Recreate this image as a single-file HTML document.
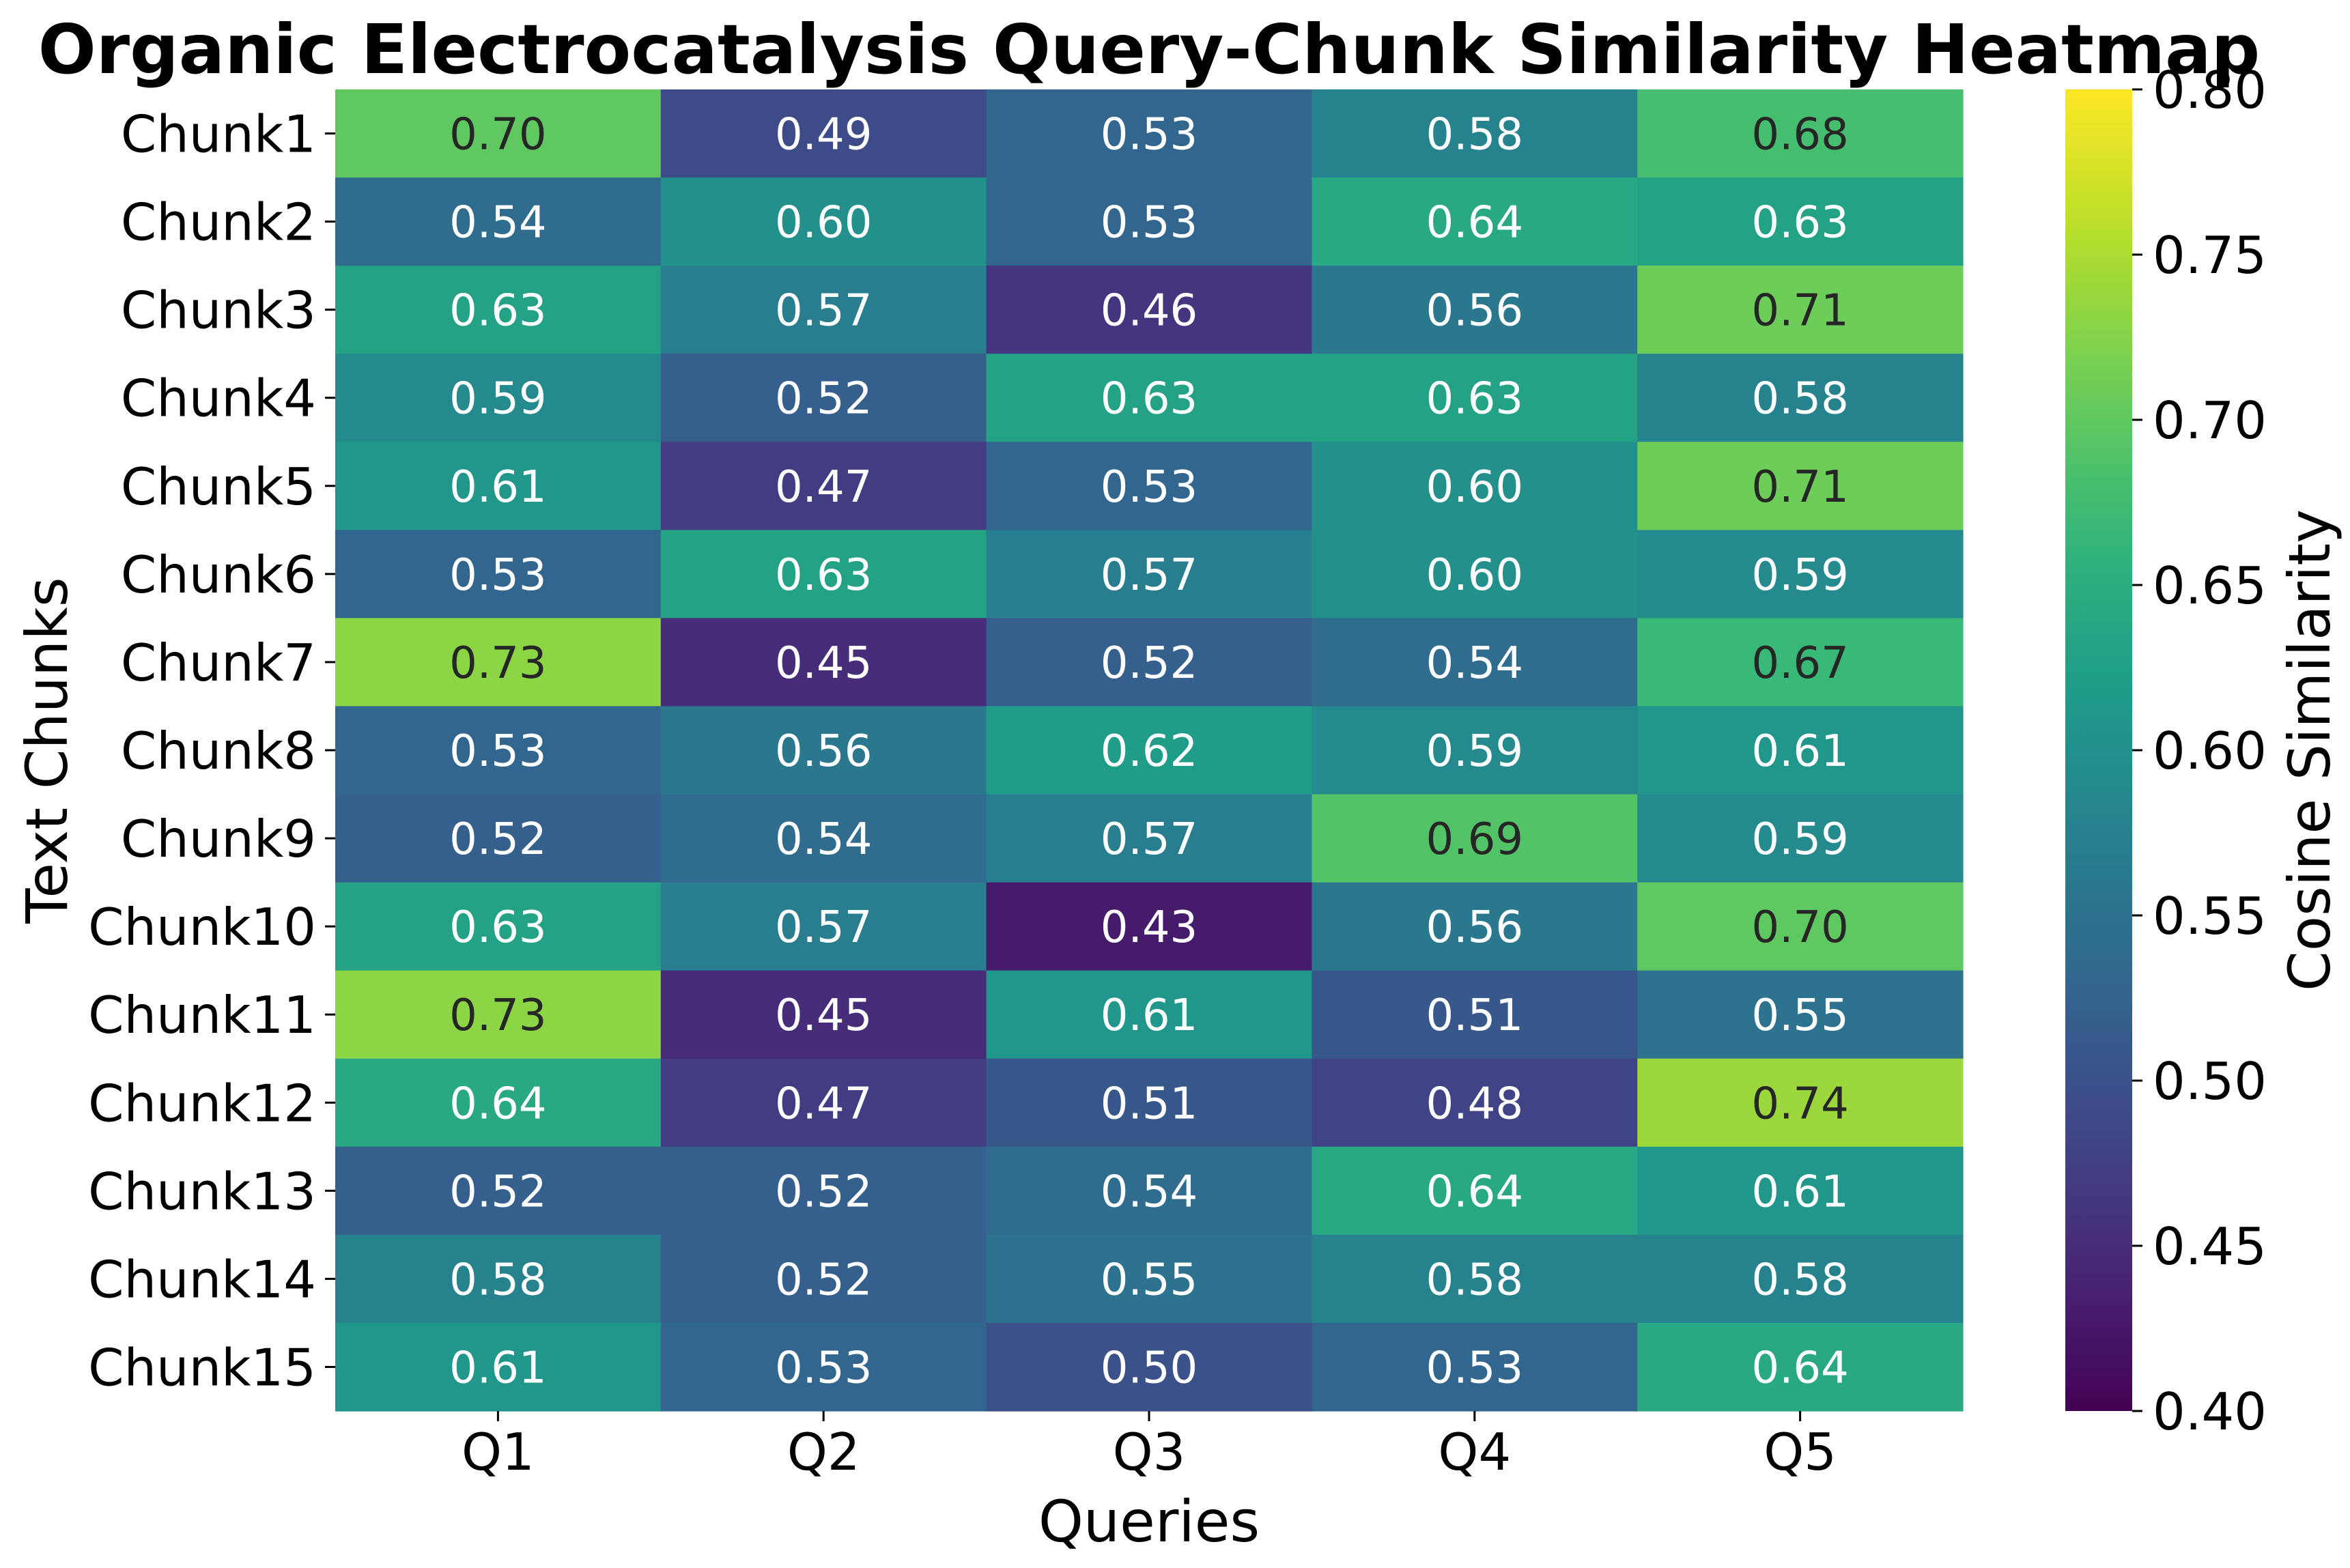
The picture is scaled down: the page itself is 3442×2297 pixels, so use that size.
<!DOCTYPE html>
<html><head><meta charset="utf-8"><style>
html,body{margin:0;padding:0;background:#fff;}
svg{display:block;font-family:"DejaVu Sans","Liberation Sans",sans-serif;}
</style></head><body>
<svg id="chart" width="3442" height="2297" viewBox="0 0 3442 2297" xmlns="http://www.w3.org/2000/svg">
<rect width="3442" height="2297" fill="#fff"/>
<text x="1683" y="107" font-size="100" font-weight="bold" text-anchor="middle">Organic Electrocatalysis Query-Chunk Similarity Heatmap</text>
<text x="1683" y="2258" font-size="84" text-anchor="middle">Queries</text>
<text x="0" y="0" font-size="84" text-anchor="middle" transform="translate(98,1099) rotate(-90)">Text Chunks</text>
<text x="0" y="0" font-size="84" text-anchor="middle" transform="translate(3412,1099) rotate(-90)">Cosine Similarity</text>
<defs><linearGradient id="vg" x1="0" y1="1" x2="0" y2="0"></linearGradient></defs>
<g id="cells"></g><g id="axes"></g><g id="cbar"></g>
</svg>
<script>
const queries = ["Q1","Q2","Q3","Q4","Q5"];
const chunks = ["Chunk1","Chunk2","Chunk3","Chunk4","Chunk5","Chunk6","Chunk7","Chunk8","Chunk9","Chunk10","Chunk11","Chunk12","Chunk13","Chunk14","Chunk15"];
const values = [
[0.70,0.49,0.53,0.58,0.68],
[0.54,0.60,0.53,0.64,0.63],
[0.63,0.57,0.46,0.56,0.71],
[0.59,0.52,0.63,0.63,0.58],
[0.61,0.47,0.53,0.60,0.71],
[0.53,0.63,0.57,0.60,0.59],
[0.73,0.45,0.52,0.54,0.67],
[0.53,0.56,0.62,0.59,0.61],
[0.52,0.54,0.57,0.69,0.59],
[0.63,0.57,0.43,0.56,0.70],
[0.73,0.45,0.61,0.51,0.55],
[0.64,0.47,0.51,0.48,0.74],
[0.52,0.52,0.54,0.64,0.61],
[0.58,0.52,0.55,0.58,0.58],
[0.61,0.53,0.50,0.53,0.64]];
const cbarTicks = [0.40,0.45,0.50,0.55,0.60,0.65,0.70,0.75,0.80];
const vmin = 0.40, vmax = 0.80;

const NS="http://www.w3.org/2000/svg";
const L=491,R=2875,T=131,B=2067, CL=3025, CR=3123;
const cw=(R-L)/queries.length, rh=(B-T)/chunks.length;
const xPos=i=>L+i*cw, yPos=j=>T+j*rh;
const cY=v=>B-(v-vmin)/(vmax-vmin)*(B-T);
const vir=[[68,1,84],[72,40,120],[62,74,137],[49,104,142],[38,130,142],[31,158,137],[53,183,121],[110,206,88],[181,222,43],[253,231,37]];
function color(v){let t=Math.max(0,Math.min(1,(v-vmin)/(vmax-vmin)))*(vir.length-1);let i=Math.min(vir.length-2,Math.floor(t)),f=t-i;
 const c=vir[i].map((a,k)=>Math.round(a+(vir[i+1][k]-a)*f));return c;}
function mk(tag,attrs,parent){const e=document.createElementNS(NS,tag);for(const k in attrs)e.setAttribute(k,attrs[k]);parent.appendChild(e);return e;}
const cells=document.getElementById('cells'),axes=document.getElementById('axes'),cbar=document.getElementById('cbar');
values.forEach((row,j)=>row.forEach((v,i)=>{
 const c=color(v);
 const r=mk('rect',{x:xPos(i),y:yPos(j),width:cw+0.6,height:rh+0.6,fill:`rgb(${c})`},cells);
 
 
 const lum=(0.2126*c[0]+0.7152*c[1]+0.0722*c[2])/255;
 const t=mk('text',{x:xPos(i)+cw/2,y:yPos(j)+rh/2+23,'font-size':64,'text-anchor':'middle',fill:lum>0.55?'#262626':'#fff'},cells);
 t.textContent=v.toFixed(2);
 
 
}));
queries.forEach((q,i)=>{
 const x=xPos(i)+cw/2;
 mk('line',{x1:x,x2:x,y1:B,y2:B+15,stroke:'#000','stroke-width':3},axes);
 const t=mk('text',{x:x,y:2153,'font-size':75,'text-anchor':'middle'},axes);t.textContent=q;
 
 
});
chunks.forEach((c,j)=>{
 const y=yPos(j)+rh/2;
 mk('line',{x1:L-15,x2:L,y1:y,y2:y,stroke:'#000','stroke-width':3},axes);
 const t=mk('text',{x:L-28,y:y+27,'font-size':75,'text-anchor':'end'},axes);t.textContent=c;
 
 
});
const g=document.getElementById('vg');
for(let k=0;k<=20;k++){const c=color(vmin+k/20*(vmax-vmin));mk('stop',{offset:(k/20*100)+'%','stop-color':`rgb(${c})`},g);}
const cb=mk('rect',{x:CL,y:T,width:CR-CL,height:B-T,fill:'url(#vg)'},cbar);


cbarTicks.forEach(v=>{
 const y=cY(v);
 mk('line',{x1:CR,x2:CR+15,y1:y,y2:y,stroke:'#000','stroke-width':3},cbar);
 const t=mk('text',{x:CR+30,y:y+27,'font-size':75},cbar);t.textContent=v.toFixed(2);
 
 
});
</script>
</body></html>
